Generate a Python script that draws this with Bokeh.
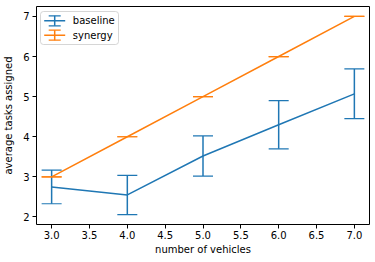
from bokeh.plotting import figure
from bokeh.models import (ColumnDataSource, Whisker, TeeHead, FixedTicker,
                          PrintfTickFormatter, Range1d, BoxAnnotation, Label)
from bokeh.embed import file_html
from bokeh.resources import INLINE

# ---- data ----
vehicles = [3, 4, 5, 6, 7]
baseline_mean = [2.75, 2.55, 3.52, 4.30, 5.07]
baseline_err = [0.42, 0.49, 0.50, 0.60, 0.62]
synergy_mean = [3.0, 4.0, 5.0, 6.0, 7.0]
synergy_err = [0.0, 0.0, 0.0, 0.0, 0.0]
series_names = ["baseline", "synergy"]
x_ticks = [3.0, 3.5, 4.0, 4.5, 5.0, 5.5, 6.0, 6.5, 7.0]
y_ticks = [2, 3, 4, 5, 6, 7]
x_label = "number of vehicles"
y_label = "average tasks assigned"

colors = ["#1f77b4", "#ff7f0e"]
FONT = "DejaVu Sans"
FW, FH = 333, 218

series = [(series_names[0], baseline_mean, baseline_err, colors[0]),
          (series_names[1], synergy_mean, synergy_err, colors[1])]

# autoscale like matplotlib (5% margins)
xs_lo, xs_hi = min(vehicles), max(vehicles)
xpad = 0.05 * (xs_hi - xs_lo)
all_lo = min(m - e for _, ms, es, _ in series for m, e in zip(ms, es))
all_hi = max(m + e for _, ms, es, _ in series for m, e in zip(ms, es))
ypad = 0.05 * (all_hi - all_lo)

p = figure(frame_width=FW, frame_height=FH,
           x_range=Range1d(xs_lo - xpad, xs_hi + xpad),
           y_range=Range1d(all_lo - ypad, all_hi + ypad),
           output_backend="svg", toolbar_location=None,
           min_border_left=34, min_border_right=8, min_border_top=6, min_border_bottom=38)

p.background_fill_color = "white"
p.border_fill_color = "white"
p.outline_line_color = "black"
p.outline_line_width = 1
p.grid.visible = False

p.xaxis.ticker = FixedTicker(ticks=x_ticks)
p.yaxis.ticker = FixedTicker(ticks=y_ticks)
p.xaxis.formatter = PrintfTickFormatter(format="%.1f")
p.yaxis.formatter = PrintfTickFormatter(format="%d")
p.xaxis.axis_label = x_label
p.yaxis.axis_label = y_label
for ax in (p.xaxis, p.yaxis):
    ax.axis_line_color = None
    ax.major_tick_out = 4
    ax.major_tick_in = 0
    ax.major_tick_line_color = "black"
    ax.minor_tick_line_color = None
    ax.major_label_text_font = FONT
    ax.major_label_text_font_size = "10px"
    ax.major_label_text_color = "black"
    ax.axis_label_text_font = FONT
    ax.axis_label_text_font_size = "10px"
    ax.axis_label_text_font_style = "normal"
    ax.axis_label_text_color = "black"
p.xaxis.major_label_standoff = 2
p.xaxis.axis_label_standoff = 2
p.yaxis.major_label_standoff = 3
p.yaxis.axis_label_standoff = 6

for name, mean, err, color in series:
    src = ColumnDataSource(dict(
        x=vehicles, y=mean,
        lower=[m - e for m, e in zip(mean, err)],
        upper=[m + e for m, e in zip(mean, err)]))
    p.line("x", "y", source=src, line_color=color, line_width=1.5)
    w = Whisker(base="x", lower="lower", upper="upper", source=src,
                dimension="height", line_color=color, line_width=1.5,
                upper_head=TeeHead(size=20, line_color=color, line_width=1.2),
                lower_head=TeeHead(size=20, line_color=color, line_width=1.2),
                level="glyph")
    p.add_layout(w)

# ---- legend (screen units, relative to frame) ----
lg_l, lg_r, lg_t, lg_b = 4, 82, 5, 38
box = BoxAnnotation(left=lg_l, right=lg_r, top=FH - lg_t, bottom=FH - lg_b,
                    left_units="screen", right_units="screen",
                    top_units="screen", bottom_units="screen",
                    fill_color="white", fill_alpha=0.8,
                    line_color="#cccccc", line_alpha=0.8, line_width=1,
                    border_radius=3, level="annotation")
p.add_layout(box)
for i, (name, mean, err, color) in enumerate(series):
    ry = FH - (14.3 + i * 14.4)
    hl = ColumnDataSource(dict(b=[ry], lo=[7.7], hi=[28.7]))
    p.add_layout(Whisker(base="b", lower="lo", upper="hi", source=hl,
                         base_units="screen", lower_units="screen", upper_units="screen",
                         dimension="width", line_color=color, line_width=1.5,
                         upper_head=None, lower_head=None, level="annotation"))
    vl = ColumnDataSource(dict(b=[18.2], lo=[ry - 5], hi=[ry + 5]))
    p.add_layout(Whisker(base="b", lower="lo", upper="hi", source=vl,
                         base_units="screen", lower_units="screen", upper_units="screen",
                         dimension="height", line_color=color, line_width=1.5,
                         upper_head=TeeHead(size=12, line_color=color, line_width=1.2),
                         lower_head=TeeHead(size=12, line_color=color, line_width=1.2),
                         level="annotation"))
    p.add_layout(Label(x=36.3, y=ry, x_units="screen", y_units="screen", text=name,
                       text_baseline="middle", text_align="left",
                       text_font=FONT, text_font_size="10px", text_color="black",
                       level="annotation"))

open("out.html", "w").write(file_html(p, INLINE))
